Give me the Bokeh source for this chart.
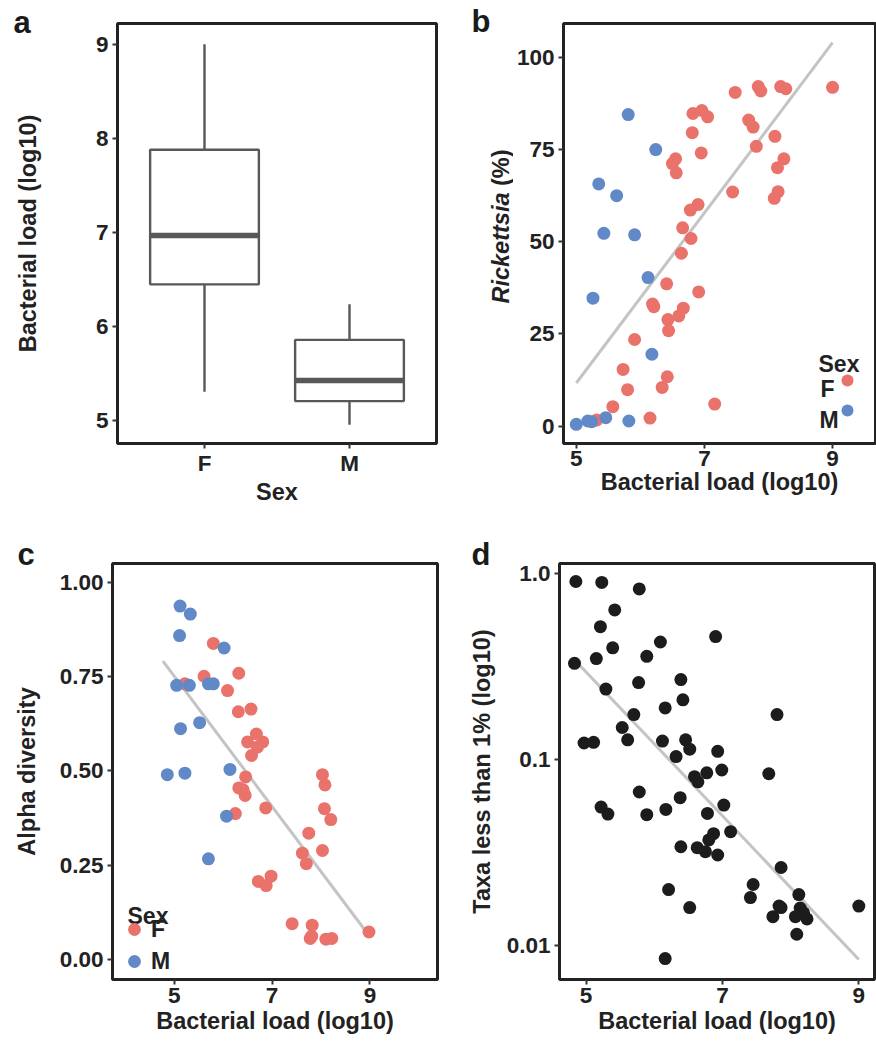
import numpy as np
from bokeh.plotting import figure
from bokeh.layouts import row, column
from bokeh.models import FixedTicker, Range1d, Label, Legend, LegendItem
from bokeh.embed import file_html
from bokeh.resources import INLINE

# ---------------- data ----------------
# panel a: box plot of bacterial load by sex
sex_categories = ["F", "M"]
box_lower = [5.31, 4.96]
box_q1 = [6.45, 5.21]
box_median = [6.97, 5.43]
box_q3 = [7.88, 5.86]
box_upper = [9.00, 6.24]

# panel b: Rickettsia (%) vs bacterial load
b_f_load = [9.00, 7.84, 7.88, 8.19, 8.27, 7.48, 6.82, 6.96, 7.05, 7.69, 7.76, 6.81, 8.10, 7.81,
            6.95, 6.55, 6.50, 6.56, 8.24, 8.14, 7.44, 8.15, 8.09, 6.90, 6.78, 6.66, 6.79, 6.64,
            6.41, 6.91, 6.19, 6.21, 6.67, 6.60, 6.43, 6.44, 5.91, 5.73, 5.80, 6.42, 6.34, 5.57,
            7.16, 5.32, 6.15]
b_f_rick = [91.9, 92.1, 90.9, 92.1, 91.5, 90.5, 84.8, 85.6, 83.9, 83.0, 81.1, 79.6, 78.6, 75.9,
            74.1, 72.5, 71.2, 68.7, 72.5, 70.1, 63.5, 63.6, 61.8, 60.1, 58.6, 53.8, 50.9, 46.9,
            38.6, 36.4, 33.1, 32.4, 32.0, 29.9, 28.9, 25.9, 23.5, 15.4, 9.9, 13.4, 10.5, 5.3,
            6.0, 1.7, 2.2]
b_m_load = [5.81, 6.24, 5.35, 5.63, 5.43, 5.91, 6.12, 5.26, 6.18, 5.00, 5.18, 5.24, 5.46, 5.82]
b_m_rick = [84.5, 75.0, 65.7, 62.5, 52.3, 51.9, 40.3, 34.7, 19.5, 0.5, 1.4, 1.2, 2.3, 1.4]
b_fit_load = [5.0, 9.0]
b_fit_rick = [11.7, 104.0]

# panel c: alpha diversity vs bacterial load
c_f_load = [5.80, 5.61, 5.22, 6.32, 6.09, 6.31, 6.57, 6.68, 6.50, 6.81, 6.70, 6.58, 6.46, 6.32,
            6.41, 6.45, 6.25, 6.87, 8.03, 8.08, 8.07, 8.20, 7.75, 7.62, 7.70, 8.03, 6.72, 6.88,
            6.98, 7.41, 7.82, 7.78, 7.81, 8.10, 8.22, 8.98]
c_f_alpha = [0.838, 0.751, 0.731, 0.759, 0.713, 0.657, 0.664, 0.598, 0.577, 0.577, 0.563, 0.541,
             0.484, 0.455, 0.450, 0.435, 0.387, 0.402, 0.490, 0.463, 0.400, 0.371, 0.335, 0.282,
             0.254, 0.289, 0.207, 0.196, 0.221, 0.095, 0.091, 0.056, 0.062, 0.054, 0.056, 0.073]
c_m_load = [5.12, 5.33, 5.11, 6.02, 5.05, 5.31, 5.70, 5.80, 5.52, 5.13, 4.86, 5.22, 6.14, 6.07, 5.70]
c_m_alpha = [0.937, 0.916, 0.859, 0.826, 0.727, 0.727, 0.731, 0.731, 0.628, 0.612, 0.490, 0.494,
             0.504, 0.380, 0.267]
c_fit_load = [4.77, 8.95]
c_fit_alpha = [0.791, 0.069]

# panel d: taxa less than 1% vs bacterial load
d_load = [4.85, 5.23, 5.78, 5.42, 5.21, 6.90, 6.09, 5.39, 5.89, 5.15, 4.83, 5.77, 6.39, 5.29,
          6.42, 6.16, 5.70, 7.80, 5.53, 5.61, 4.97, 5.11, 6.12, 6.46, 6.52, 6.93, 6.32, 6.99,
          6.59, 6.64, 6.77, 7.68, 5.78, 6.38, 7.02, 5.22, 5.32, 5.89, 6.17, 6.78, 7.12, 6.87,
          6.80, 6.39, 6.63, 6.75, 6.93, 7.86, 6.21, 7.45, 7.41, 8.12, 6.52, 7.83, 7.86, 9.00,
          8.14, 8.19, 7.74, 8.07, 8.24, 8.09, 6.16]
d_taxa = [0.91, 0.90, 0.83, 0.64, 0.52, 0.46, 0.43, 0.40, 0.36, 0.35, 0.33, 0.26, 0.27, 0.24,
          0.21, 0.19, 0.175, 0.175, 0.149, 0.128, 0.123, 0.124, 0.126, 0.128, 0.114, 0.111, 0.104,
          0.088, 0.081, 0.076, 0.085, 0.084, 0.067, 0.0625, 0.057, 0.0556, 0.051, 0.0506, 0.054,
          0.0514, 0.041, 0.040, 0.037, 0.034, 0.0336, 0.032, 0.0307, 0.0263, 0.020, 0.0213,
          0.0181, 0.0188, 0.016, 0.0163, 0.016, 0.0163, 0.0159, 0.015, 0.0143, 0.0143, 0.0139,
          0.0115, 0.0085]
d_fit_load = [4.84, 9.0]
d_fit_taxa = [0.342, 0.0084]

# ticks
a_yticks = [5, 6, 7, 8, 9]
load_ticks = [5, 7, 9]
b_yticks = [0, 25, 50, 75, 100]
c_yticks = [0.0, 0.25, 0.5, 0.75, 1.0]
c_ylabels = ["0.00", "0.25", "0.50", "0.75", "1.00"]
d_yticks = [0.01, 0.1, 1.0]
d_ylabels = ["0.01", "0.1", "1.0"]

# ---------------- style ----------------
FONT = "Liberation Sans"
TXT = "#222222"
RED = "#E9726B"
BLUE = "#6189C8"
BLACK = "#1c1c1c"
FIT = "#C4C4C4"
BOXC = "#585858"
PT = 13
TICK_FS = "22.5px"
TITLE_FS = "23.5px"


def base_fig(width, height, xr, yr, mb, y_axis_type="linear"):
    p = figure(width=width, height=height, x_range=Range1d(*xr), y_range=Range1d(*yr),
               output_backend="svg", toolbar_location=None, y_axis_type=y_axis_type,
               min_border_left=mb[0], min_border_right=mb[1],
               min_border_top=mb[2], min_border_bottom=mb[3])
    p.grid.visible = False
    p.outline_line_color = "#222222"
    p.outline_line_width = 3
    p.background_fill_color = "white"
    p.border_fill_color = "white"
    for ax in (p.xaxis[0], p.yaxis[0]):
        ax.axis_line_color = None
        ax.major_tick_line_color = "#333333"
        ax.major_tick_line_width = 2
        ax.major_tick_out = 5
        ax.major_tick_in = 0
        ax.minor_tick_line_color = None
        ax.major_label_text_font = FONT
        ax.major_label_text_font_style = "bold"
        ax.major_label_text_font_size = TICK_FS
        ax.major_label_text_color = TXT
        ax.axis_label_text_font = FONT
        ax.axis_label_text_font_style = "bold"
        ax.axis_label_text_font_size = TITLE_FS
        ax.axis_label_text_color = TXT
    p.yaxis[0].major_label_standoff = 4
    return p


def strip_fig(width, height):
    s = figure(width=width, height=height, x_range=Range1d(0, 1), y_range=Range1d(0, 1),
               output_backend="svg", toolbar_location=None,
               x_axis_location=None, y_axis_location=None,
               min_border_left=0, min_border_right=0, min_border_top=0, min_border_bottom=0)
    s.grid.visible = False
    s.outline_line_color = None
    s.background_fill_color = "white"
    s.border_fill_color = "white"
    return s


def letter(p, txt, offset, standoff):
    t = p.title
    t.text = txt
    t.align = "left"
    t.vertical_align = "bottom"
    t.offset = offset
    t.standoff = standoff
    t.text_font = FONT
    t.text_font_style = "bold"
    t.text_font_size = "31px"
    t.text_color = "#1a1a1a"


def text_label(p, txt, x, y, size="23px", style="bold", align="left", angle=0.0):
    p.add_layout(Label(x=x, y=y, x_units="screen", y_units="screen", text=txt,
                       text_font=FONT, text_font_style=style, text_font_size=size,
                       text_color=TXT, text_baseline="alphabetic", text_align=align,
                       angle=angle))


# ---------------- panel a ----------------
pa = base_fig(438, 515, (0.4, 2.6), (4.76, 9.22), (117, 2, 23, 72))
pos = [i + 1 for i in range(len(sex_categories))]
pa.segment(x0=pos, y0=box_q3, x1=pos, y1=box_upper, line_color=BOXC, line_width=2.4)
pa.segment(x0=pos, y0=box_q1, x1=pos, y1=box_lower, line_color=BOXC, line_width=2.4)
pa.vbar(x=pos, bottom=box_q1, top=box_q3, width=0.75, fill_color="white",
        line_color=BOXC, line_width=2.4)
pa.segment(x0=[v - 0.375 for v in pos], y0=box_median, x1=[v + 0.375 for v in pos],
           y1=box_median, line_color=BOXC, line_width=5.5)
pa.xaxis.ticker = FixedTicker(ticks=pos)
pa.xaxis.major_label_overrides = {v: s for v, s in zip(pos, sex_categories)}
pa.yaxis.ticker = FixedTicker(ticks=a_yticks)
pa.xaxis.axis_label = "Sex"
pa.yaxis.axis_label = "Bacterial load (log10)"
pa.yaxis.axis_label_standoff = 52
pa.xaxis.major_label_standoff = 2
pa.xaxis.axis_label_standoff = 0
letter(pa, "a", -104, -33)

# ---------------- panel b ----------------
sb = strip_fig(75, 515)
letter(sb, "b", 33, -31)
text_label(sb, "Rickettsia", 62, 251, size=TITLE_FS, style="bold italic", align="right",
           angle=np.pi / 2)
text_label(sb, "(%)", 62, 257.5, size=TITLE_FS, style="bold", align="left", angle=np.pi / 2)

pb = base_fig(363, 515, (4.80, 9.67), (-4.7, 109.2), (47, 1, 22, 72))
pb.line(b_fit_load, b_fit_rick, line_color=FIT, line_width=3)
rb_f = pb.scatter(b_f_load, b_f_rick, size=PT, fill_color=RED, line_color=None)
rb_m = pb.scatter(b_m_load, b_m_rick, size=PT, fill_color=BLUE, line_color=None)
pb.xaxis.ticker = FixedTicker(ticks=load_ticks)
pb.yaxis.ticker = FixedTicker(ticks=b_yticks)
pb.xaxis.axis_label = "Bacterial load (log10)"
pb.yaxis.axis_label = None
pb.xaxis.major_label_standoff = 2
pb.xaxis.axis_label_standoff = 0
leg_b = Legend(items=[LegendItem(label=" ", renderers=[rb_f]),
                      LegendItem(label=" ", renderers=[rb_m])],
               location=(269, 18), glyph_width=30, glyph_height=30, spacing=0,
               padding=0, margin=0, label_text_font_size="1px", label_standoff=0,
               label_width=1, label_height=1,
               background_fill_alpha=0, border_line_alpha=0)
pb.add_layout(leg_b)
text_label(pb, "Sex", 255, 80)
text_label(pb, "F", 257, 55)
text_label(pb, "M", 256, 24)

# ---------------- panel c ----------------
pc = base_fig(440, 526, (3.74, 10.38), (-0.053, 1.05), (112, 3, 48, 62))
pc.line(c_fit_load, c_fit_alpha, line_color=FIT, line_width=3)
rc_f = pc.scatter(c_f_load, c_f_alpha, size=PT, fill_color=RED, line_color=None)
rc_m = pc.scatter(c_m_load, c_m_alpha, size=PT, fill_color=BLUE, line_color=None)
pc.xaxis.ticker = FixedTicker(ticks=load_ticks)
pc.yaxis.ticker = FixedTicker(ticks=c_yticks)
pc.yaxis.major_label_overrides = {v: s for v, s in zip(c_yticks, c_ylabels)}
pc.xaxis.axis_label = "Bacterial load (log10)"
pc.yaxis.axis_label = "Alpha diversity"
pc.yaxis.axis_label_standoff = 17
pc.xaxis.major_label_standoff = 3
pc.xaxis.axis_label_standoff = 2
leg_c = Legend(items=[LegendItem(label="F", renderers=[rc_f]),
                      LegendItem(label="M", renderers=[rc_m])],
               location=(6, 2), glyph_width=32, glyph_height=32, spacing=0,
               padding=0, margin=0, label_standoff=1,
               label_text_font=FONT, label_text_font_style="bold",
               label_text_font_size="23px", label_text_color=TXT,
               background_fill_alpha=0, border_line_alpha=0)
pc.add_layout(leg_c)
text_label(pc, "Sex", 15, 64)
letter(pc, "c", -95, -17)

# ---------------- panel d ----------------
pd_ = base_fig(436, 526, (4.61, 9.23), (10 ** -2.183, 10 ** 0.056), (119, 2, 48, 62),
               y_axis_type="log")
pd_.line(d_fit_load, d_fit_taxa, line_color=FIT, line_width=3)
pd_.scatter(d_load, d_taxa, size=PT, fill_color=BLACK, line_color=None)
pd_.xaxis.ticker = FixedTicker(ticks=load_ticks)
pd_.yaxis.ticker = FixedTicker(ticks=d_yticks)
pd_.yaxis.major_label_overrides = {v: s for v, s in zip(d_yticks, d_ylabels)}
pd_.xaxis.axis_label = "Bacterial load (log10)"
pd_.yaxis.axis_label = "Taxa less than 1% (log10)"
pd_.yaxis.axis_label_standoff = 9
pd_.xaxis.major_label_standoff = 3
pd_.xaxis.axis_label_standoff = 2
letter(pd_, "d", -88, -17)

layout = column(row(pa, sb, pb), row(pc, pd_))
open("out.html", "w").write(file_html(layout, INLINE))
